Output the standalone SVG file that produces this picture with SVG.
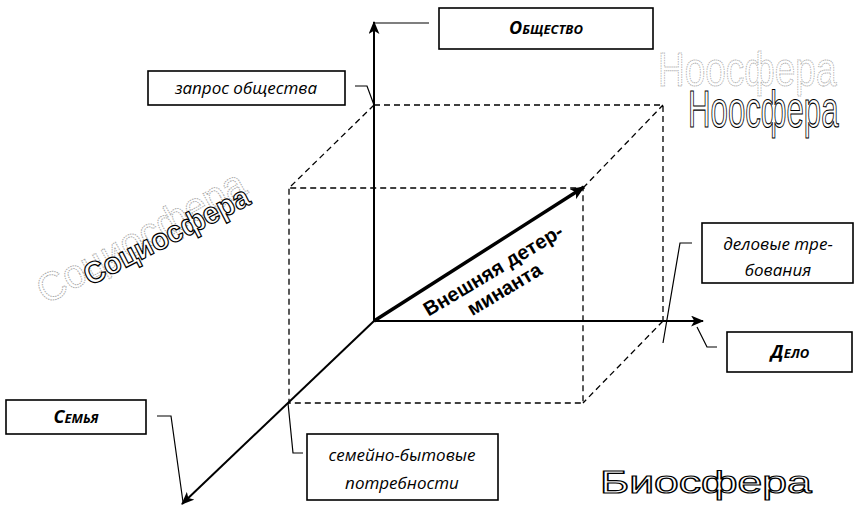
<svg xmlns="http://www.w3.org/2000/svg" width="857" height="505" viewBox="0 0 857 505">
<defs>
<marker id="ah" viewBox="0 0 12 10" refX="11" refY="5" markerWidth="13" markerHeight="11" markerUnits="userSpaceOnUse" orient="auto">
<path d="M0,0 L12,5 L0,10 L3,5 z" fill="#000"/>
</marker>
<marker id="ahb" viewBox="0 0 12 10" refX="11" refY="5" markerWidth="15" markerHeight="12" markerUnits="userSpaceOnUse" orient="auto">
<path d="M0,0 L12,5 L0,10 L3,5 z" fill="#000"/>
</marker>
<style>
.box{fill:#fff;stroke:#000;stroke-width:1.6}
.dash{fill:none;stroke:#000;stroke-width:1.3;stroke-dasharray:6 4}
.axis{fill:none;stroke:#000;stroke-width:2}
.lead{fill:none;stroke:#000;stroke-width:1.2}
.lbl{font-family:"Open Sans","Noto Sans",sans-serif;font-style:italic;font-size:17px;text-anchor:middle;fill:#000}
.cap{font-family:"Open Sans","Noto Sans",sans-serif;font-style:italic;font-weight:bold;font-size:18px;font-variant:small-caps;text-anchor:middle;fill:#000}
.sphere{font-family:"Liberation Sans",Arial,sans-serif;fill:#fff;stroke:#000;stroke-width:1.2}
.ghost{font-family:"Liberation Sans",Arial,sans-serif;fill:none;stroke:#aaa;stroke-width:1;stroke-dasharray:1.5 1}
.det{font-family:"Liberation Sans",Arial,sans-serif;font-weight:bold;font-size:20px;text-anchor:middle;fill:#000}
</style>
</defs>

<g id="connectors">
<path class="dash" d="M374,105 H663 V321 M374,105 L289,188 H583 V403 H289 V188 M583,188 L663,105 M663,321 L583,403"/>
<line class="axis" x1="374" y1="321" x2="374" y2="22" marker-end="url(#ah)"/>
<line class="axis" x1="374" y1="321" x2="703" y2="321" marker-end="url(#ah)"/>
<line class="axis" x1="374" y1="321" x2="182" y2="504" marker-end="url(#ah)"/>
<line x1="374" y1="321" x2="584" y2="187" stroke="#000" stroke-width="3.5" marker-end="url(#ahb)"/>
<polyline class="lead" points="374,23 429,23"/>
<polyline class="lead" points="355,86 367,86 374,105"/>
<polyline class="lead" points="157,416 171,416 183,502"/>
<polyline class="lead" points="288,403 293,453 303,453"/>
<polyline class="lead" points="692,243 680,243 663,343"/>
<polyline class="lead" points="717,347 707,347 697,327"/>
</g>

<g id="obshchestvo">
<rect class="box" x="439" y="8" width="214" height="41"/>
<text class="cap" x="546" y="34">Общество</text>
</g>

<g id="zapros">
<rect class="box" x="148" y="71" width="197" height="34"/>
<text class="lbl" x="246" y="94">запрос общества</text>
</g>

<g id="semya">
<rect class="box" x="6" y="400" width="140" height="34"/>
<text class="cap" x="76" y="423">Семья</text>
</g>

<g id="semeyno">
<rect class="box" x="307" y="434" width="191" height="66"/>
<text class="lbl" x="402" y="461">семейно-бытовые</text>
<text class="lbl" x="402" y="489">потребности</text>
</g>

<g id="delovye">
<rect class="box" x="702" y="223" width="151" height="60"/>
<text class="lbl" x="778" y="250">деловые тре-</text>
<text class="lbl" x="778" y="276">бования</text>
</g>

<g id="delo">
<rect class="box" x="727" y="332" width="125" height="40"/>
<text class="cap" x="790" y="358">Дело</text>
</g>

<g id="determinanta" transform="translate(493,270) rotate(-31)">
<text class="det" x="0" y="7">Внешняя детер-</text>
<text class="det" x="0" y="29">минанта</text>
</g>

<g id="noosfera">
<text class="ghost" transform="translate(658,86) scale(0.755,1)" font-size="49">Ноосфера</text>
<text class="sphere" transform="translate(688,127) scale(0.6,1)" font-size="52" stroke-width="1.3">Ноосфера</text>
</g>

<g id="sociosfera">
<text class="ghost" transform="translate(46,305) rotate(-29)" font-size="40" textLength="232" lengthAdjust="spacingAndGlyphs">Социосфера</text>
<text class="sphere" transform="translate(90,286) rotate(-27)" font-size="30" font-weight="bold" stroke-width="2" textLength="182" lengthAdjust="spacingAndGlyphs">Социосфера</text>
</g>

<g id="biosfera">
<text class="sphere" transform="translate(600,493) scale(1.39,1)" font-size="32" stroke-width="0.9">Биосфера</text>
</g>
</svg>
